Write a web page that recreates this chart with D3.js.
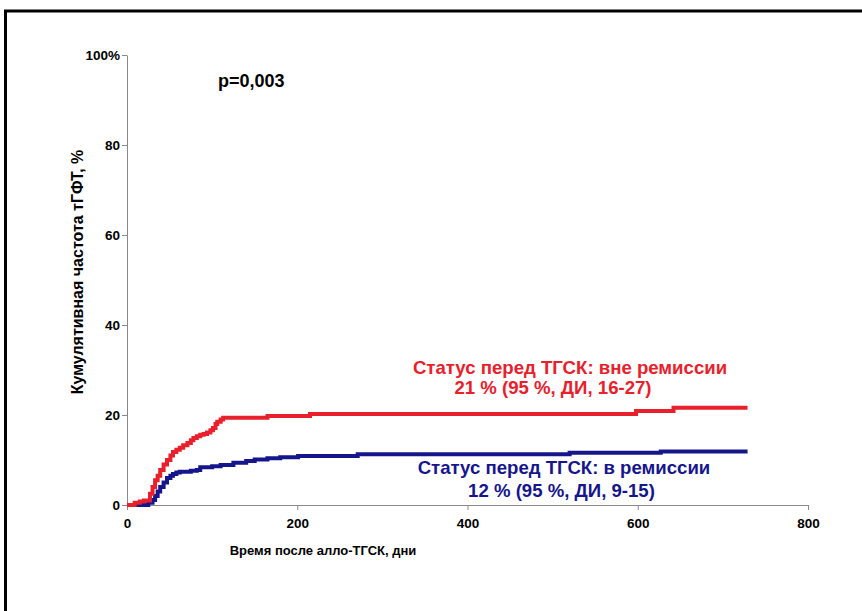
<!DOCTYPE html>
<html>
<head>
<meta charset="utf-8">
<script src="https://cdn.jsdelivr.net/npm/d3@7"></script>
<style>
    body { margin: 0; background: #fff; }
    #chart text { font-family: Arial, 'Liberation Sans', sans-serif; font-weight: bold; }
    .axis path, .axis line { stroke: #8a8a8a; }
    .axis text { fill: #000; font-size: 13.5px; }
</style>
</head>
<body>
<div id="chart"></div>
<script>
// data: cumulative incidence, step points (day, %)
const redDays = [0, 9, 15, 20, 27, 30, 33, 36, 39, 43, 47, 51, 54, 58, 62, 66, 71, 75, 78, 82, 86, 90, 94, 98, 101, 104, 106, 110, 113, 165, 215, 598, 642, 729];
const redValues = [0, 0.5, 0.8, 1.0, 2.5, 4.0, 5.5, 6.5, 7.8, 9.0, 10.0, 11.0, 11.8, 12.3, 12.7, 13.3, 13.8, 14.4, 14.9, 15.3, 15.6, 15.8, 16.1, 16.6, 17.1, 18.0, 18.5, 19.0, 19.4, 19.8, 20.2, 20.9, 21.6, 21.6];

const blueDays = [0, 25, 30, 33, 36, 39, 43, 47, 51, 54, 58, 62, 75, 82, 86, 100, 110, 125, 140, 150, 165, 180, 201, 271, 520, 627, 729];
const blueValues = [0, 0.5, 1.1, 2.0, 3.0, 4.0, 5.0, 6.0, 6.5, 6.9, 7.2, 7.4, 7.6, 7.8, 8.4, 8.6, 8.9, 9.4, 9.8, 10.1, 10.4, 10.6, 10.9, 11.3, 11.6, 11.9, 11.9];

const xTicks = [0, 200, 400, 600, 800];
const yTicks = [0, 20, 40, 60, 80, 100];

const pValue = 'p=0,003';
const redLabel = ['Статус перед ТГСК: вне ремиссии', '21 % (95 %, ДИ, 16-27)'];
const blueLabel = ['Статус перед ТГСК: в ремиссии', '12 % (95 %, ДИ, 9-15)'];
const xTitle = 'Время после алло-ТГСК, дни';
const yTitle = 'Кумулятивная частота тГФТ, %';

const draw = () => {
    const dimensions = {
        width: 862,
        height: 611,
        margin: {
            top: 55,
            bottom: 106,
            left: 127,
            right: 54,
        }
    }
    dimensions.containerWidth = dimensions.width - dimensions.margin.left - dimensions.margin.right;
    dimensions.containerHeight = dimensions.height - dimensions.margin.top - dimensions.margin.bottom;

    const svg = d3.select('#chart')
        .append('svg')
        .attr('width', dimensions.width)
        .attr('height', dimensions.height);

    // frame (cut off at right and bottom, like the original slide)
    svg.append('rect')
        .attr('x', 5.5)
        .attr('y', 11)
        .attr('width', 1000)
        .attr('height', 1000)
        .attr('fill', 'none')
        .attr('stroke', '#000')
        .attr('stroke-width', 3);

    const container = svg.append('g')
        .attr('transform', `translate(${dimensions.margin.left}, ${dimensions.margin.top})`);

    // scales
    const xScale = d3.scaleLinear()
        .domain([0, 800])
        .range([0, dimensions.containerWidth]);

    const yScale = d3.scaleLinear()
        .domain([0, 100])
        .range([dimensions.containerHeight, 0]);

    // axes
    const xAxis = d3.axisBottom(xScale)
        .tickValues(xTicks)
        .tickSize(5)
        .tickSizeOuter(0)
        .tickPadding(8);

    const xAxisGroup = container.append('g')
        .attr('transform', `translate(0, ${dimensions.containerHeight})`)
        .call(xAxis)
        .classed('axis', true);
    xAxisGroup.selectAll('text').attr('dy', '0.71em');

    const yAxis = d3.axisLeft(yScale)
        .tickValues(yTicks)
        .tickSize(5)
        .tickSizeOuter(0)
        .tickPadding(2)
        .tickFormat(d => d === 100 ? '100%' : d);

    container.append('g')
        .call(yAxis)
        .classed('axis', true);

    // axis titles
    container.append('text')
        .attr('x', 196)
        .attr('y', 500)
        .attr('text-anchor', 'middle')
        .style('font-size', '13px')
        .text(xTitle);

    container.append('text')
        .attr('transform', `translate(-44, 217) rotate(-90)`)
        .attr('text-anchor', 'middle')
        .style('font-size', '16px')
        .text(yTitle);

    // curves
    const line = d3.line()
        .x(d => xScale(d[0]))
        .y(d => yScale(d[1]))
        .curve(d3.curveStepAfter);

    const series = [
        {days: blueDays, values: blueValues, color: '#16168c'},
        {days: redDays, values: redValues, color: '#e8202c'},
    ];

    container.selectAll('.curve')
        .data(series)
        .join('path')
        .attr('class', 'curve')
        .attr('d', s => line(d3.zip(s.days, s.values)))
        .attr('fill', 'none')
        .attr('stroke', s => s.color)
        .attr('stroke-width', 4);

    // annotations
    container.append('text')
        .attr('x', 91)
        .attr('y', 32)
        .style('font-size', '18px')
        .text(pValue);

    const labels = [
        {lines: redLabel, color: '#e8202c', x: [443, 426], y: [318.5, 338.5]},
        {lines: blueLabel, color: '#16168c', x: [437, 434.5], y: [418.5, 441.5]},
    ];

    labels.forEach(lab => {
        lab.lines.forEach((t, i) => {
            container.append('text')
                .attr('x', lab.x[i])
                .attr('y', lab.y[i])
                .attr('text-anchor', 'middle')
                .attr('fill', lab.color)
                .style('font-size', '18.6px')
                .text(t);
        });
    });
}

draw();
</script>
</body>
</html>
